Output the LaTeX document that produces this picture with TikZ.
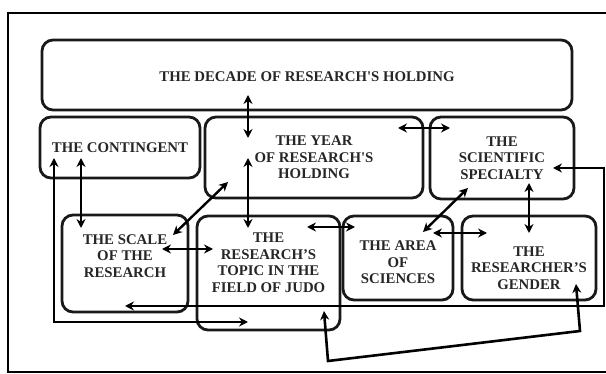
\documentclass[tikz,border=0pt]{standalone}
\usepackage{fontspec}
\setmainfont{Liberation Serif}
\usepackage{tikz}
\usetikzlibrary{arrows.meta, calc, positioning}

\begin{document}
\begin{tikzpicture}[x=1pt, y=-1pt,
    box/.style={draw=black!90, line width=2.8pt, rounded corners=11pt, inner sep=0pt},
    txt/.style={align=center, text=black!85, font=\fontsize{14.8}{16.5}\selectfont\bfseries},
    both/.style={line width=2.4pt, {Stealth[length=9pt,width=9pt]}-{Stealth[length=9pt,width=9pt]}},
    loop/.style={line width=2.6pt}]
  \useasboundingbox (0,0) rectangle (606,374);
  \draw[line width=2.8pt] (8,13) rectangle (620,372);

  \node[box, minimum width=530pt, minimum height=70pt] (dec) at (307,75) {};
  \node[txt] at ($(dec)+(0,2)$) {THE DECADE OF RESEARCH\textquotesingle S HOLDING};
  \node[box, minimum width=160pt, minimum height=61pt] (con) at (120,147.5) {};
  \node[txt] at (con) {THE CONTINGENT};
  \node[box, minimum width=218pt, minimum height=81pt] (yr) at (314,157.5) {};
  \node[txt] at (yr) {THE YEAR\\OF RESEARCH\textquotesingle S\\HOLDING};
  \node[box, minimum width=144pt, minimum height=82pt] (spec) at (502,158) {};
  \node[txt] at (spec) {THE\\SCIENTIFIC\\SPECIALTY};
  \node[box, minimum width=126pt, minimum height=97pt] (scl) at (125,263.5) {};
  \node[txt] at ($(scl)+(0,-7.5)$) {THE SCALE\\OF THE\\RESEARCH};
  \node[box, minimum width=143pt, minimum height=114pt] (top) at (268.5,273) {};
  \node[txt] at ($(top)+(0,-10.5)$) {THE\\RESEARCH’S\\TOPIC IN THE\\FIELD OF JUDO};
  \node[box, minimum width=110pt, minimum height=84pt] (area) at (398,258) {};
  \node[txt] at ($(area)+(0,4.5)$) {THE AREA\\OF\\SCIENCES};
  \node[box, minimum width=134pt, minimum height=84pt] (gen) at (529,258) {};
  \node[txt] at ($(gen)+(0,10)$) {THE\\RESEARCHER’S\\GENDER};

  \draw[both] ($(dec)+(-59,20)$) -- ($(yr)+(-66,-19.5)$);
  \draw[both] ($(con)+(-39,10.5)$) -- ($(scl)+(-44,-35.5)$);
  \draw[both] ($(yr)+(-66,0.5)$) -- ($(top)+(-20.5,-45)$);
  \draw[both] ($(yr)+(-86,24.5)$) -- ($(scl)+(48,-28.5)$);
  \draw[both] ($(scl)+(37,-14.5)$) -- ($(top)+(-55.5,-24)$);
  \draw[both] ($(yr)+(84,-29.5)$) -- ($(spec)+(-52,-30)$);
  \draw[both] ($(top)+(38.5,-46)$) -- ($(area)+(-43,-31)$);
  \draw[both] ($(spec)+(-34,30)$) -- ($(area)+(25,-26)$);
  \draw[both] ($(area)+(35,-25)$) -- ($(gen)+(-42,-25)$);
  \draw[both] ($(spec)+(27,25)$) -- ($(gen)+(0,-25)$);

  \draw[both, loop] ($(spec)+(51,10)$) -- ++(51,0) |- ($(scl)+(0,42.5)$);
  \draw[both, loop] ($(con)+(-66,10.5)$) |- ($(top)+(-20.5,49)$);
  \draw[both, loop] ($(top)+(55.5,38)$) -- ++(4,50) -- ++(252,-30) -- ($(gen)+(47,26)$);
\end{tikzpicture}
\end{document}
